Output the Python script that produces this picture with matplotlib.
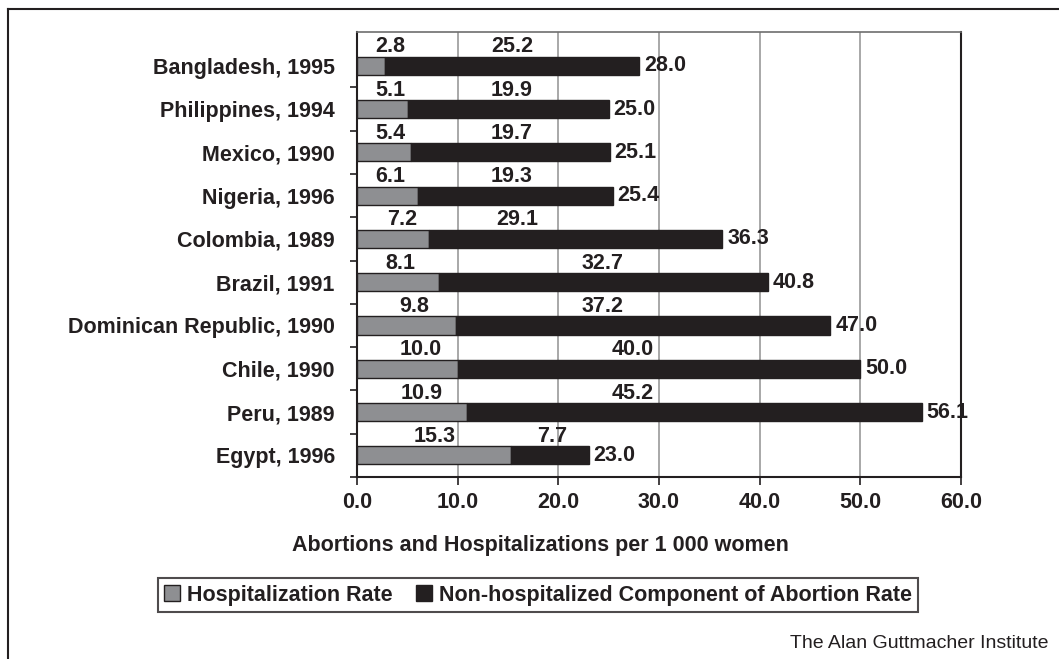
import numpy as np
import matplotlib.pyplot as plt
from matplotlib.lines import Line2D

# data, top to bottom as in the chart
countries = ["Bangladesh, 1995", "Philippines, 1994", "Mexico, 1990", "Nigeria, 1996",
             "Colombia, 1989", "Brazil, 1991", "Dominican Republic, 1990", "Chile, 1990",
             "Peru, 1989", "Egypt, 1996"]
hosp_rate = [2.8, 5.1, 5.4, 6.1, 7.2, 8.1, 9.8, 10.0, 10.9, 15.3]
non_hosp = [25.2, 19.9, 19.7, 19.3, 29.1, 32.7, 37.2, 40.0, 45.2, 7.7]
total_rate = [28.0, 25.0, 25.1, 25.4, 36.3, 40.8, 47.0, 50.0, 56.1, 23.0]

# where the segment labels sit above each bar (x in data units)
hosp_label_x = [3.3, 3.3, 3.3, 3.3, 4.5, 4.3, 5.7, 6.3, 6.4, 7.7]
rest_label_x = [15.4, 15.4, 15.4, 15.4, 15.9, 24.4, 24.4, 27.4, 27.4, 19.4]

ink = "#231f20"
gray = "#8e8f92"
plt.rcParams["font.family"] = ["Liberation Sans", "DejaVu Sans"]
plt.rcParams["font.weight"] = "bold"
fs = 15.5

fig = plt.figure(figsize=(10.59, 6.59), dpi=100)
ax = fig.add_axes([357/1059, 1 - 477/659, (961 - 357)/1059, (477 - 32)/659])

y = np.arange(len(countries))[::-1]
h = 0.42
ax.barh(y, hosp_rate, height=h, color=gray, edgecolor=ink, linewidth=1.0, zorder=3,
        label="Hospitalization Rate")
ax.barh(y, non_hosp, left=hosp_rate, height=h, color=ink, edgecolor=ink, linewidth=1.0,
        zorder=3, label="Non-hospitalized Component of Abortion Rate")

for yi, a, b, t, xa, xb in zip(y, hosp_rate, non_hosp, total_rate, hosp_label_x, rest_label_x):
    ax.text(xa, yi + 0.44, f"{a:.1f}", ha="center", va="center", fontsize=fs, color=ink, zorder=4)
    ax.text(xb, yi + 0.44, f"{b:.1f}", ha="center", va="center", fontsize=fs, color=ink, zorder=4)
    ax.text(t + 0.5, yi, f"{t:.1f}", ha="left", va="center", fontsize=fs, color=ink, zorder=4)

ax.set_xlim(0, 60)
ax.set_ylim(-0.5, 9.78)
ax.set_xticks(np.arange(0, 61, 10))
ax.set_xticklabels([f"{v:.1f}" for v in np.arange(0, 61, 10)], fontsize=fs, color=ink)
ax.set_yticks(y)
ax.set_yticklabels(countries, fontsize=fs, color=ink)
ax.set_yticks(np.arange(-0.5, 9.5, 1.0), minor=True)
ax.tick_params(axis="y", which="major", length=0, pad=16)
ax.tick_params(axis="y", which="minor", length=5, width=1.2, color=ink, direction="out")
ax.tick_params(axis="x", length=6, width=1.2, color=ink, direction="out", pad=5)
ax.xaxis.grid(True, color="#9a9a9a", linewidth=1.2, zorder=0)
ax.set_axisbelow(True)
for side in ["left", "bottom", "right"]:
    ax.spines[side].set_color(ink)
    ax.spines[side].set_linewidth(1.5)
ax.spines["top"].set_color("#6e6e6e")
ax.spines["top"].set_linewidth(1.2)

fig.text(0.51, 1 - 545/659, "Abortions and Hospitalizations per 1 000 women",
         ha="center", va="center", fontsize=fs, color=ink)

leg = fig.legend(loc="center", bbox_to_anchor=(0.508, 1 - 595/659), ncol=2,
                 fontsize=fs, frameon=True, fancybox=False, edgecolor=ink,
                 handlelength=0.75, handleheight=0.75, handletextpad=0.3,
                 columnspacing=1.1, borderpad=0.3, borderaxespad=0)
leg.get_frame().set_linewidth(1.5)
for t in leg.get_texts():
    t.set_color(ink)

fig.text(1049/1059, 1 - 643/659, "The Alan Guttmacher Institute", ha="right", va="center",
         fontsize=14, fontweight="normal", color=ink)

# outer frame (left and top edges)
fig.add_artist(Line2D([8/1059, 8/1059], [0, 1 - 9/659], transform=fig.transFigure,
                      color=ink, linewidth=1.5))
fig.add_artist(Line2D([8/1059, 1], [1 - 9/659, 1 - 9/659], transform=fig.transFigure,
                      color=ink, linewidth=1.5))

fig.savefig("out.png", dpi=100)
